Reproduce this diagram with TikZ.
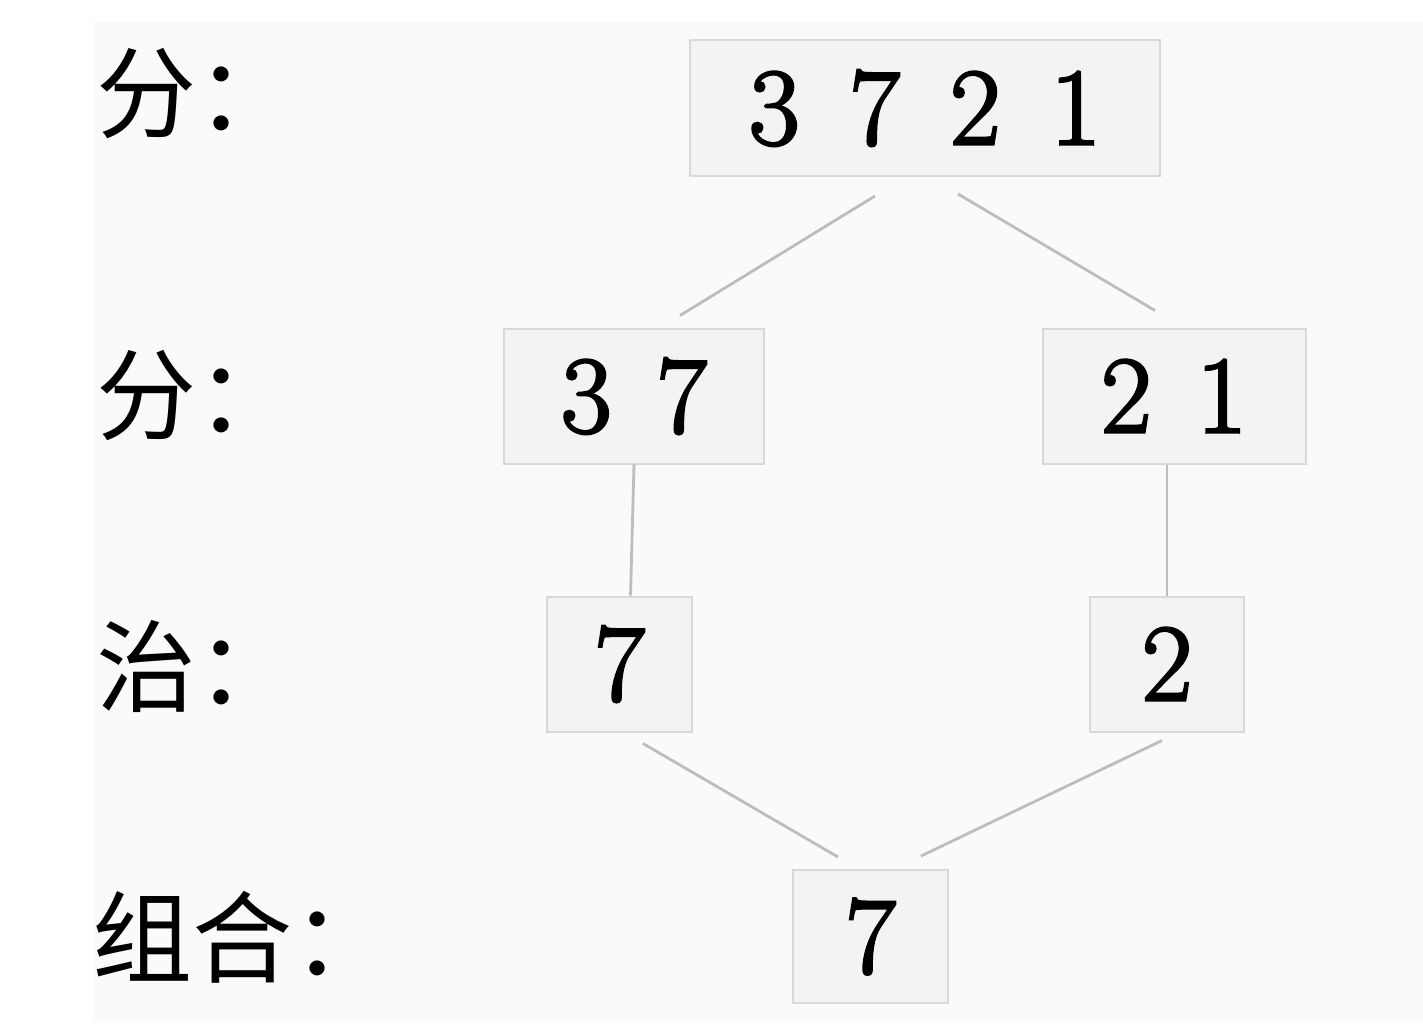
\documentclass[tikz,border=0pt]{standalone}
\usepackage{fontspec}
\newfontfamily\cjkfont{Noto Sans CJK SC}
\newfontfamily\numfont[FakeBold=2.5]{Latin Modern Roman}
\usetikzlibrary{calc}
\definecolor{bgc}{HTML}{FAFAFA}
\definecolor{boxfill}{HTML}{F2F3F5}
\definecolor{boxline}{HTML}{D8D8D8}
\definecolor{linkc}{HTML}{BDBDBD}
\newcommand\dgap{\hspace{45pt}}
\newcommand\wgap{\hspace{50pt}}
\tikzset{
  numbox/.style={draw=boxline, line width=2pt, fill=boxfill, inner sep=0pt,
    font=\numfont\fontsize{110}{110}\selectfont, anchor=center},
  lvl/.style={anchor=west, inner sep=0pt, font=\cjkfont\fontsize{100}{100}\selectfont},
  link/.style={draw=linkc, line width=2.8pt}
}
\begin{document}
\begin{tikzpicture}[x=1pt,y=-1pt]
\useasboundingbox (0,0) rectangle (1423,1028);
\fill[bgc] (94,22) rectangle (1423,1021);
% level labels
\node[lvl] (l1) at (96,94) {分：};
\node[lvl] (l2) at (96,396) {分：};
\node[lvl] (l3) at (96,666) {治：};
\node[lvl] (l4) at (92,937) {组合：};
% boxes
\node[numbox, minimum width=470pt, minimum height=136pt] (top) at (925,108) {3\wgap 7\wgap 2\wgap 1};
\node[numbox, minimum width=260pt, minimum height=135pt] (b37) at (634,396) {3\dgap 7};
\node[numbox, minimum width=263pt, minimum height=135pt] (b21) at (1174,396) {2\dgap 1};
\node[numbox, minimum width=145pt, minimum height=135pt] (c7) at (619.5,664) {7};
\node[numbox, minimum width=154pt, minimum height=135pt] (c2) at (1167,664) {2};
\node[numbox, minimum width=155pt, minimum height=133pt] (bot) at (870.5,936.5) {7};
% connectors
\draw[link] ($(top.south)+(-50,19)$) -- ($(b37.north)+(46,-12)$);
\draw[link] ($(top.south)+(33,17)$) -- ($(b21.north)+(-19,-17)$);
\draw[link] (b37.south) -- ($(c7.north)+(11,0)$);
\draw[link] (c2.north |- b21.south) -- (c2.north);
\draw[link] ($(c7.south)+(23.5,11)$) -- ($(bot.north)+(-32.5,-12)$);
\draw[link] ($(c2.south)+(-5,8)$) -- ($(bot.north)+(50.5,-13)$);
\end{tikzpicture}
\end{document}
